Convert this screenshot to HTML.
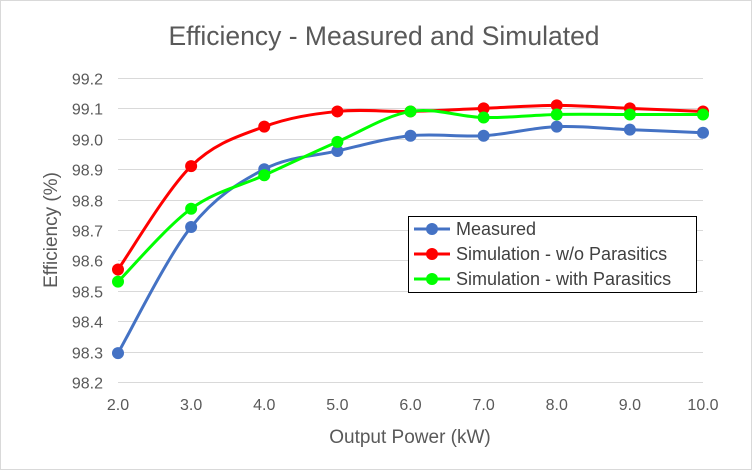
<!DOCTYPE html>
<html><head><meta charset="utf-8"><style>
html,body{margin:0;padding:0;background:#fff}
svg{display:block;font-family:"Liberation Sans",sans-serif}
</style></head><body>
<svg id="s" width="752" height="470" xmlns="http://www.w3.org/2000/svg">
<rect x="0.5" y="0.5" width="751" height="469" fill="#fff" stroke="#d9d9d9"/>
<text x="384" y="45" text-anchor="middle" font-size="26.5" fill="#595959">Efficiency - Measured and Simulated</text>
<g id="grid" stroke="#d9d9d9" stroke-width="1"></g>
<g id="labels" font-size="16" fill="#595959"></g>
<text x="410" y="443" text-anchor="middle" font-size="19" fill="#595959">Output Power (kW)</text>
<text transform="translate(57,230) rotate(-90)" text-anchor="middle" font-size="19" fill="#595959">Efficiency (%)</text>
<g id="series"></g>
<rect x="408.5" y="216.5" width="288" height="76" fill="#fff" stroke="#000"/>
<g font-size="18" fill="#404040">
<line x1="414" y1="229" x2="450" y2="229" stroke="#4472c4" stroke-width="3"/><circle cx="432" cy="229" r="6" fill="#4472c4"/>
<text x="456" y="235">Measured</text>
<line x1="414" y1="254" x2="450" y2="254" stroke="#ff0000" stroke-width="3"/><circle cx="432" cy="254" r="6" fill="#ff0000"/>
<text x="456" y="260">Simulation - w/o Parasitics</text>
<line x1="414" y1="279" x2="450" y2="279" stroke="#00ff00" stroke-width="3"/><circle cx="432" cy="279" r="6" fill="#00ff00"/>
<text x="456" y="285">Simulation - with Parasitics</text>
</g>
</svg>
<script>
var NS="http://www.w3.org/2000/svg";
function el(p,t,a,txt){var e=document.createElementNS(NS,t);for(var k in a)e.setAttribute(k,a[k]);if(txt)e.textContent=txt;p.appendChild(e);return e;}
function X(i){return 118+(i-2)*73.125;}
function Y(v){return 78+(99.2-v)*304;}
var g=document.getElementById('grid'),L=document.getElementById('labels');
for(var k=0;k<=10;k++){var v=98.2+k*0.1,y=Math.round(Y(v))+0.5;
el(g,'line',{x1:118,x2:703,y1:y,y2:y});
el(L,'text',{x:103,y:y+6,'text-anchor':'end'},v.toFixed(1));}
for(var i=2;i<=10;i++)el(L,'text',{x:X(i),y:410,'text-anchor':'middle'},i.toFixed(1));
var data=[
["#4472c4",[98.295,98.71,98.90,98.96,99.01,99.01,99.04,99.03,99.02]],
["#00ff00",[98.53,98.77,98.88,98.99,99.09,99.07,99.08,99.08,99.08]],
["#ff0000",[98.57,98.91,99.04,99.09,99.09,99.10,99.11,99.10,99.09]]];
var S=document.getElementById('series');
[data[0],data[2],data[1]].forEach(function(d){
var p=d[1].map(function(v,i){return[X(i+2),Y(v)];});
var s="M"+p[0][0]+","+p[0][1],t=1/6;
for(var i=0;i<p.length-1;i++){var p0=p[Math.max(i-1,0)],p1=p[i],p2=p[i+1],p3=p[Math.min(i+2,p.length-1)];
s+=" C"+(p1[0]+(p2[0]-p0[0])*t)+","+(p1[1]+(p2[1]-p0[1])*t)+" "+(p2[0]-(p3[0]-p1[0])*t)+","+(p2[1]-(p3[1]-p1[1])*t)+" "+p2[0]+","+p2[1];}
el(S,'path',{d:s,fill:'none',stroke:d[0],'stroke-width':3});
p.forEach(function(q){el(S,'circle',{cx:q[0],cy:q[1],r:6,fill:d[0]});});
});
</script>
</body></html>
